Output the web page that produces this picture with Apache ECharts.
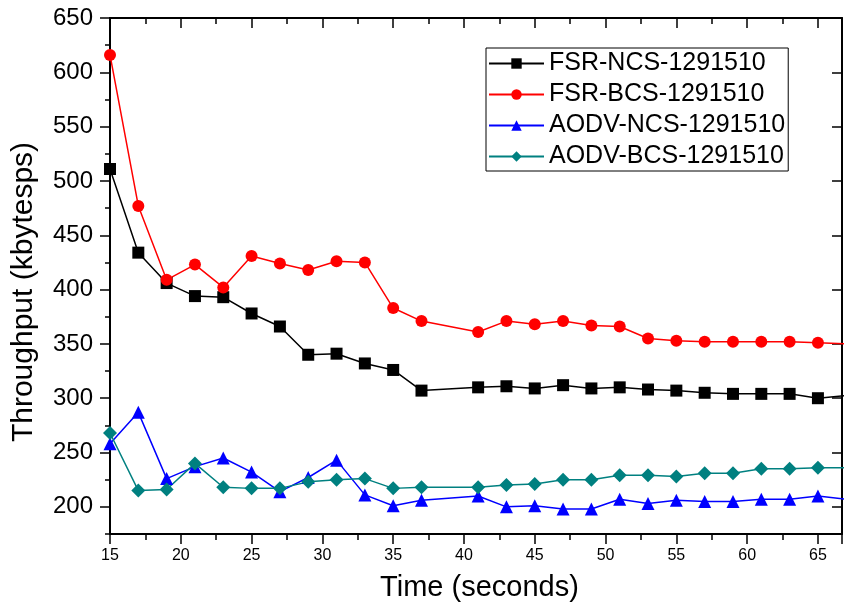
<!DOCTYPE html>
<html>
<head>
<meta charset="utf-8">
<script src="https://cdn.jsdelivr.net/npm/echarts@6/dist/echarts.min.js"></script>
<style>html,body{margin:0;padding:0;background:#fff}#c{width:845px;height:610px}</style>
</head>
<body>
<div id="c"></div>
<script>
const times = [15,17,19,21,23,25,27,29,31,33,35,37,41,43,45,47,49,51,53,55,57,59,61,63,65,67];
const fsrNcs  = [511,434,406,394,393,378,366,340,341,332,326,307,310,311,309,312,309,310,308,307,305,304,304,304,300,302.5];
const fsrBcs  = [616,477,409,423,402,431,424,418,426,425,383,371,361,371,368,371,367,366,355,353,352,352,352,352,351,350];
const aodvNcs = [258,287,226,237,245,232,214,227,243,211,201,206,210,200,201,198,198,207,203,206,205,205,207,207,210,207];
const aodvBcs = [268,215,216,240,218,217,217,223,225,226,217,218,218,220,221,225,225,229,229,228,231,231,235,235,236,236];
const seriesNames = ['FSR-NCS-1291510','FSR-BCS-1291510','AODV-NCS-1291510','AODV-BCS-1291510'];
const xTitle = 'Time (seconds)';
const yTitle = 'Throughput (kbytesps)';

const FONT = "'Liberation Sans', Arial, sans-serif";
function pairs(v){ return times.map((t,i)=>[t,v[i]]); }
const styles = [
  {color:'#000000', symbol:'rect', size:12},
  {color:'#ff0000', symbol:'circle', size:12},
  {color:'#0000ff', symbol:'triangle', size:13},
  {color:'#008080', symbol:'diamond', size:14}
];
const vals = [fsrNcs, fsrBcs, aodvNcs, aodvBcs];

const chart = echarts.init(document.getElementById('c'), null, {renderer:'canvas'});
const axisLine = {show:true, lineStyle:{color:'#000', width:2}};
const tickStyle = {color:'#000', width:1.5};
chart.setOption({
  animation:false,
  backgroundColor:'#fff',
  grid:{left:110, top:18, width:736, height:516, containLabel:false},
  legend:{
    orient:'vertical', left:486, top:48,
    data:seriesNames,
    itemWidth:55, itemHeight:13, itemGap:6,
    padding:[3,3,2,2],
    borderColor:'#000', borderWidth:1,
    textStyle:{fontFamily:FONT, fontSize:25, color:'#000', lineHeight:25}
  },
  xAxis:[{
    type:'value', min:15, max:66.7, interval:5,
    axisLine:axisLine,
    axisTick:{show:true, inside:false, length:10, lineStyle:tickStyle},
    minorTick:{show:true, splitNumber:2, length:6, lineStyle:tickStyle},
    splitLine:{show:false},
    axisLabel:{fontFamily:FONT, fontSize:16, color:'#000', margin:14,
      formatter:function(v){ return (v%5===0)? String(v):''; }},
    name:xTitle, nameLocation:'middle', nameGap:39,
    nameTextStyle:{fontFamily:FONT, fontSize:29, color:'#000', padding:[0,0,0,7]}
  },{
    type:'value', min:15, max:66.7, interval:5, position:'top',
    axisLine:axisLine,
    axisTick:{show:true, inside:true, length:10, lineStyle:tickStyle},
    minorTick:{show:true, splitNumber:2, length:6, lineStyle:tickStyle},
    axisLabel:{show:false}, splitLine:{show:false}
  }],
  yAxis:[{
    type:'value', min:175, max:650, splitNumber:9,
    axisLine:axisLine,
    axisTick:{show:true, inside:false, length:10, lineStyle:tickStyle},
    splitLine:{show:false},
    axisLabel:{fontFamily:FONT, fontSize:24, color:'#000', margin:17,
      showMinLabel:false,
      formatter:function(v){ return (v%50===0)? String(v):''; }}
  },{
    type:'value', min:175, max:650, interval:25, position:'left',
    axisLine:axisLine,
    axisTick:{show:true, inside:false, length:5, lineStyle:tickStyle},
    axisLabel:{show:false}, splitLine:{show:false}
  },{
    type:'value', min:175, max:650, splitNumber:9, position:'right',
    axisLine:axisLine,
    axisTick:{show:true, inside:true, length:10, lineStyle:tickStyle},
    axisLabel:{show:false}, splitLine:{show:false}
  }],
  graphic:[{
    type:'text', x:24, y:292, rotation:Math.PI/2,
    style:{text:yTitle, fontFamily:FONT, fontSize:30, fill:'#000', align:'center', verticalAlign:'middle'}
  }],
  series: seriesNames.map((n,i)=>({
    name:n, type:'line', xAxisIndex:0, yAxisIndex:0,
    data:pairs(vals[i]),
    symbol:styles[i].symbol, symbolSize:styles[i].size,
    showAllSymbol:true, clip:true,
    lineStyle:{color:styles[i].color, width:1.5},
    itemStyle:{color:styles[i].color},
    emphasis:{disabled:true}
  }))
});
</script>
</body>
</html>
